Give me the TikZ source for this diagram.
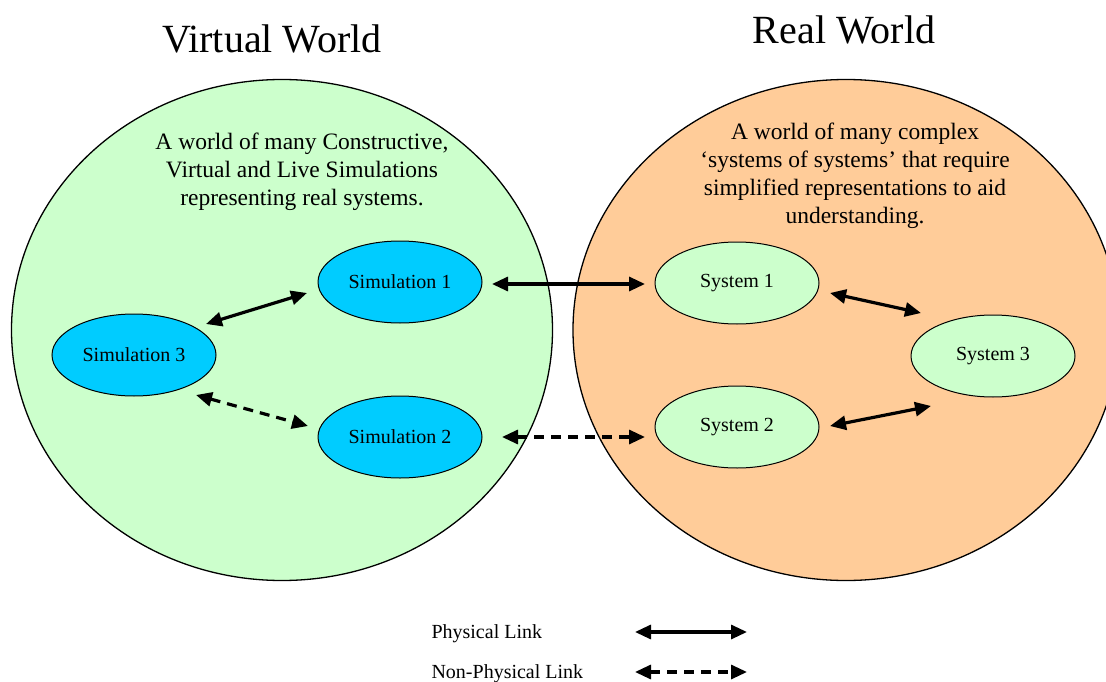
\documentclass[tikz,border=0pt]{standalone}
\usepackage{fontspec}
\setmainfont{Liberation Serif}
\usetikzlibrary{shapes.geometric,arrows.meta}
\definecolor{virtualgreen}{HTML}{CCFFCC}
\definecolor{realorange}{HTML}{FFCC99}
\definecolor{simblue}{HTML}{00CCFF}
\tikzstyle{world} = [ellipse, draw=black, line width=1.3pt, minimum height=501pt, inner sep=0pt]
\tikzstyle{simulation} = [ellipse, draw=black, line width=1pt, fill=simblue, minimum width=164pt, minimum height=82pt, inner sep=0pt, font=\fontsize{20}{24}\selectfont]
\tikzstyle{system} = [simulation, fill=virtualgreen]
\tikzstyle{title} = [font=\fontsize{40}{48}\selectfont]
\tikzstyle{blurb} = [align=center, font=\fontsize{23.5}{28}\selectfont]
\tikzstyle{legend} = [anchor=west, font=\fontsize{20}{24}\selectfont]
\tikzstyle{link} = [line width=3.2pt, {Triangle[length=16pt,width=14pt]}-{Triangle[length=16pt,width=14pt]}]
\tikzstyle{nonlink} = [link, dash pattern=on 10pt off 7pt]

\begin{document}
\begin{tikzpicture}[x=1pt, y=-1pt]
    \useasboundingbox (0,0) rectangle (1106,682);
    \clip (0,0) rectangle (1106,682);

    \node (virtual) [world, fill=virtualgreen, minimum width=541pt] at (282,330) {};
    \node (real) [world, fill=realorange, minimum width=546pt] at (846,330) {};

    \node (virtualtitle) [title] at (272,39) {Virtual World};
    \node (realtitle) [title] at (844,30) {Real World};

    \node (virtualblurb) [blurb] at (302,172) {A world of many Constructive,\\ Virtual and Live Simulations\\ representing real systems.};
    \node (realblurb) [blurb] at (855,176) {A world of many complex\\ `systems of systems' that require\\ simplified representations to aid\\ understanding.};

    \node (sim1) [simulation] at (400,282) {Simulation 1};
    \node (sim2) [simulation] at (400,437) {Simulation 2};
    \node (sim3) [simulation] at (134,355) {Simulation 3};

    \node (sys1) [system] at (737,283) {System 1};
    \node (sys2) [system] at (737,427) {System 2};
    \node (sys3) [system] at (993,356) {System 3};

    \draw [link] ([shift={(72,-31)}]sim3.center) -- ([shift={(-93,11)}]sim1.center);
    \draw [nonlink] ([shift={(62,40)}]sim3.center) -- ([shift={(-92,-11)}]sim2.center);
    \draw [link] ([shift={(92,2)}]sim1.center) -- ([shift={(-92,1)}]sys1.center);
    \draw [nonlink] ([shift={(102,0)}]sim2.center) -- ([shift={(-92,10)}]sys2.center);
    \draw [link] ([shift={(93,10)}]sys1.center) -- ([shift={(-72,-43)}]sys3.center);
    \draw [link] ([shift={(93,-1)}]sys2.center) -- ([shift={(-62,50)}]sys3.center);

    % legend
    \node (physical) [legend] at (428,634) {Physical Link};
    \node (nonphysical) [legend] at (428,674) {Non-Physical Link};
    \coordinate (pstart) at (635,632);
    \coordinate (pend) at (747,632);
    \coordinate (nstart) at (635,672);
    \coordinate (nend) at (747,672);
    \draw [link] (pstart) -- (pend);
    \draw [nonlink] (nstart) -- (nend);
\end{tikzpicture}
\end{document}
